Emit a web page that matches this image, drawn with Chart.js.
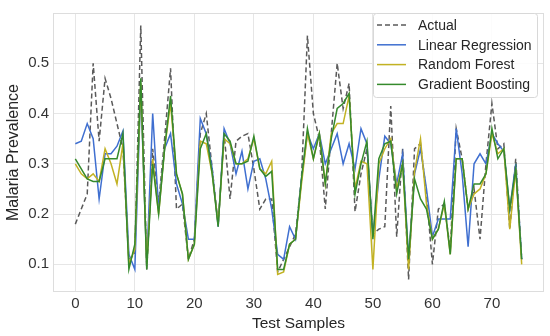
<!DOCTYPE html>
<html>
<head>
<meta charset="utf-8">
<script src="https://cdn.jsdelivr.net/npm/chart.js@4.4.1/dist/chart.umd.min.js"></script>
<style>
  html, body { margin: 0; padding: 0; background: #fff; }
  #wrap { width: 550px; height: 336px; }
</style>
</head>
<body>
<div id="wrap"><canvas id="lineChart"></canvas></div>
<script>
'use strict';

// test sample index 0..75
var samples = [];
for (var i = 0; i <= 75; i++) samples.push(i);

var xTicks = [0, 10, 20, 30, 40, 50, 60, 70];
var yTicks = [0.1, 0.2, 0.3, 0.4, 0.5];

var actual = [
  0.18, 0.21, 0.24, 0.50, 0.345, 0.47, 0.43, 0.38, 0.33, 0.11,
  0.12, 0.575, 0.09, 0.33, 0.22, 0.35, 0.49, 0.21, 0.22, 0.11,
  0.15, 0.36, 0.40, 0.29, 0.18, 0.36, 0.23, 0.345, 0.355, 0.36,
  0.29, 0.21, 0.23, 0.23, 0.085, 0.11, 0.135, 0.16, 0.27, 0.555,
  0.40, 0.35, 0.21, 0.36, 0.50, 0.41, 0.46, 0.205, 0.28, 0.33,
  0.16, 0.17, 0.175, 0.415, 0.155, 0.33, 0.07, 0.33, 0.34, 0.24,
  0.10, 0.21, 0.22, 0.13, 0.37, 0.31, 0.21, 0.25, 0.15, 0.30,
  0.42, 0.33, 0.34, 0.17, 0.31, 0.11
];
var linearReg = [
  0.34, 0.345, 0.38, 0.35, 0.23, 0.32, 0.32, 0.335, 0.365, 0.12,
  0.09, 0.45, 0.10, 0.40, 0.21, 0.33, 0.36, 0.26, 0.22, 0.15,
  0.15, 0.39, 0.36, 0.29, 0.175, 0.37, 0.34, 0.28, 0.325, 0.25,
  0.305, 0.31, 0.27, 0.21, 0.12, 0.11, 0.175, 0.15, 0.27, 0.36,
  0.33, 0.36, 0.30, 0.33, 0.36, 0.30, 0.34, 0.29, 0.37, 0.34,
  0.155, 0.27, 0.355, 0.34, 0.26, 0.32, 0.11, 0.28, 0.33, 0.25,
  0.155, 0.19, 0.19, 0.19, 0.37, 0.28, 0.135, 0.30, 0.32, 0.30,
  0.36, 0.34, 0.325, 0.21, 0.30, 0.11
];
var randomForest = [
  0.30, 0.28, 0.27, 0.28, 0.265, 0.33, 0.30, 0.26, 0.34, 0.10,
  0.13, 0.46, 0.10, 0.31, 0.20, 0.33, 0.42, 0.28, 0.24, 0.11,
  0.14, 0.345, 0.34, 0.28, 0.18, 0.35, 0.34, 0.30, 0.30, 0.31,
  0.35, 0.29, 0.28, 0.305, 0.08, 0.085, 0.14, 0.15, 0.26, 0.36,
  0.31, 0.36, 0.26, 0.36, 0.38, 0.38, 0.435, 0.25, 0.305, 0.30,
  0.09, 0.30, 0.33, 0.35, 0.25, 0.30, 0.09, 0.285, 0.35, 0.22,
  0.15, 0.17, 0.22, 0.12, 0.31, 0.31, 0.21, 0.24, 0.25, 0.28,
  0.36, 0.32, 0.33, 0.17, 0.29, 0.10
];
var gradBoost = [
  0.31, 0.29, 0.27, 0.265, 0.265, 0.31, 0.31, 0.31, 0.36, 0.09,
  0.14, 0.47, 0.09, 0.30, 0.20, 0.33, 0.435, 0.28, 0.24, 0.11,
  0.14, 0.33, 0.36, 0.28, 0.175, 0.36, 0.345, 0.30, 0.30, 0.305,
  0.355, 0.29, 0.275, 0.285, 0.09, 0.09, 0.14, 0.15, 0.27, 0.37,
  0.31, 0.36, 0.26, 0.35, 0.41, 0.42, 0.44, 0.24, 0.30, 0.345,
  0.15, 0.31, 0.34, 0.345, 0.24, 0.30, 0.11, 0.27, 0.23, 0.21,
  0.15, 0.17, 0.225, 0.12, 0.31, 0.31, 0.21, 0.26, 0.26, 0.28,
  0.37, 0.31, 0.33, 0.21, 0.29, 0.11
];

var FONT = "'Liberation Sans', Arial, sans-serif";

function pts(vals) {
  return vals.map(function (v, k) { return { x: samples[k], y: v }; });
}

// legend box drawn inside the plot, upper right
var innerLegend = {
  id: 'innerLegend',
  afterDatasetsDraw: function (chart) {
    var ctx = chart.ctx, area = chart.chartArea;
    ctx.save();
    // frame around plot
    ctx.strokeStyle = '#dddddd';
    ctx.lineWidth = 1;
    ctx.strokeRect(area.left + 0.5, area.top + 0.5, area.right - area.left - 1, area.bottom - area.top - 1);

    var bx = 373, by = 13, bw = 164, bh = 84;
    ctx.fillStyle = 'rgba(255,255,255,0.85)';
    ctx.strokeStyle = '#d8d8d8';
    ctx.beginPath();
    ctx.roundRect(bx + 0.5, by + 0.5, bw, bh, 3);
    ctx.fill();
    ctx.stroke();

    ctx.font = '14px ' + FONT;
    ctx.textBaseline = 'middle';
    chart.data.datasets.forEach(function (ds, k) {
      var y = by + 12 + k * 19.8;
      ctx.strokeStyle = ds.borderColor;
      ctx.lineWidth = ds.borderWidth;
      ctx.setLineDash(ds.borderDash || []);
      ctx.beginPath();
      ctx.moveTo(bx + 4, y);
      ctx.lineTo(bx + 33, y);
      ctx.stroke();
      ctx.setLineDash([]);
      ctx.fillStyle = '#262626';
      ctx.fillText(ds.label, bx + 45, y + 1);
    });
    ctx.restore();
  }
};

var ctx = document.getElementById('lineChart').getContext('2d');
var chart = new Chart(ctx, {
  type: 'line',
  data: {
    datasets: [
      { label: 'Actual', data: pts(actual), borderColor: '#5a5a5a', borderWidth: 1.5, borderDash: [5, 3], order: 4 },
      { label: 'Linear Regression', data: pts(linearReg), borderColor: '#3f6fd0', borderWidth: 1.5, order: 3 },
      { label: 'Random Forest', data: pts(randomForest), borderColor: '#c2b223', borderWidth: 1.5, order: 2 },
      { label: 'Gradient Boosting', data: pts(gradBoost), borderColor: '#358a2c', borderWidth: 1.5, order: 1 }
    ]
  },
  options: {
    responsive: true,
    maintainAspectRatio: false,
    animation: false,
    elements: { point: { radius: 0 }, line: { tension: 0, fill: false } },
    layout: { padding: { top: 5, right: 6, left: 0, bottom: 0 } },
    plugins: { legend: { display: false }, tooltip: { enabled: false } },
    scales: {
      x: {
        type: 'linear',
        min: -3.75,
        max: 78.75,
        afterBuildTicks: function (s) { s.ticks = xTicks.map(function (v) { return { value: v }; }); },
        afterFit: function (s) { s.height = 44; },
        grid: { color: '#e6e6e6', drawTicks: false },
        border: { display: false },
        ticks: { color: '#333', font: { family: FONT, size: 15 }, padding: 3, maxRotation: 0 },
        title: { display: true, text: 'Test Samples', color: '#262626', font: { family: FONT, size: 15.5 }, padding: { top: 0, bottom: 3 } }
      },
      y: {
        min: 0.045,
        max: 0.6,
        afterBuildTicks: function (s) { s.ticks = yTicks.map(function (v) { return { value: v }; }); },
        afterFit: function (s) { s.width = 53; },
        grid: { color: '#e6e6e6', drawTicks: false },
        border: { display: false },
        ticks: { color: '#333', font: { family: FONT, size: 15 }, padding: 4,
          callback: function (v) { return v.toFixed(1); } },
        title: { display: true, text: 'Malaria Prevalence', color: '#262626', font: { family: FONT, size: 16 }, padding: { top: 4, bottom: 0 } }
      }
    }
  },
  plugins: [innerLegend]
});
</script>
</body>
</html>
